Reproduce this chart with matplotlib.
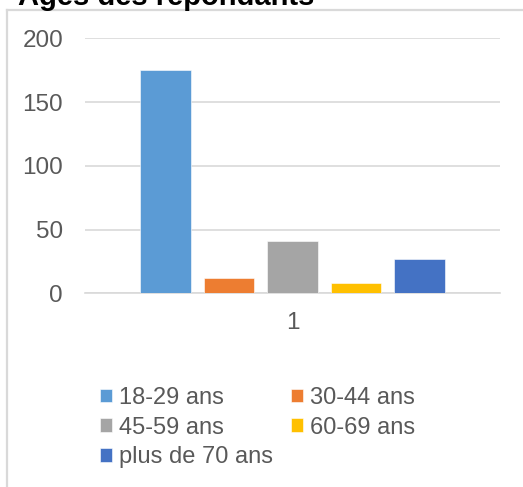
import matplotlib
matplotlib.use("Agg")
import matplotlib.pyplot as plt
from matplotlib.lines import Line2D

W, H = 523, 487

TITLE = "Âges des répondants"
AGE_GROUPS = ["18-29 ans", "30-44 ans", "45-59 ans", "60-69 ans", "plus de 70 ans"]
COUNTS = [175, 12, 41, 8, 27]
CATEGORY = "1"
Y_TICKS = [0, 50, 100, 150, 200]

COLORS = ["#5b9bd5", "#ed7d31", "#a5a5a5", "#ffc000", "#4472c4"]
TEXT = "#595959"
GRID = "#d9d9d9"

plt.rcParams["font.family"] = ["Liberation Sans", "DejaVu Sans"]

fig = plt.figure(figsize=(W / 100, H / 100), dpi=100)


def px(x, y):
    return x / W, 1 - y / H


# chart frame (left and top edges only are on the canvas)
fig.add_artist(Line2D([7 / W, 7 / W], [0, 1 - 10 / H], color=GRID, lw=1.6,
                      transform=fig.transFigure))
fig.add_artist(Line2D([7 / W, 1], [1 - 10 / H, 1 - 10 / H], color=GRID, lw=1.6,
                      transform=fig.transFigure))

tx, ty = px(18, 5)
fig.text(tx, ty, TITLE, fontsize=21, fontweight="bold", color="#000000",
         ha="left", va="baseline")

left, right, top, bottom = 85, 500, 38.3, 293.3
ax = fig.add_axes([left / W, 1 - bottom / H, (right - left) / W, (bottom - top) / H])

bar_w = 0.121
pitch = 0.153
handles = []
for i, (label, v, c) in enumerate(zip(AGE_GROUPS, COUNTS, COLORS)):
    b = ax.bar((i - 2) * pitch, v, bar_w, color=c, edgecolor="white",
               linewidth=0.4, label=label, zorder=3)
    handles.append(b)

ax.set_xlim(-0.5, 0.5)
ax.set_ylim(0, 200)
ax.set_yticks(Y_TICKS)
ax.set_xticks([0])
ax.set_xticklabels([CATEGORY])
ax.tick_params(axis="both", length=0, labelsize=17.5, colors=TEXT)
ax.tick_params(axis="y", pad=15.8)
ax.tick_params(axis="x", pad=13.5)
ax.grid(axis="y", color=GRID, linewidth=1.2, zorder=0)
for s in ["top", "right", "left"]:
    ax.spines[s].set_visible(False)
ax.spines["bottom"].set_color(GRID)
ax.spines["bottom"].set_linewidth(1.2)

order = [0, 2, 4, 1, 3]
lx, ly = px(100, 387)
fig.legend([handles[i] for i in order], [AGE_GROUPS[i] for i in order],
           loc="upper left", bbox_to_anchor=(lx, ly), ncol=2, frameon=False,
           fontsize=17, labelcolor=TEXT, handlelength=0.51, handleheight=0.51,
           handletextpad=0.3, columnspacing=0.76, labelspacing=0.32,
           borderpad=0, borderaxespad=0)

fig.savefig("out.png", dpi=100)
